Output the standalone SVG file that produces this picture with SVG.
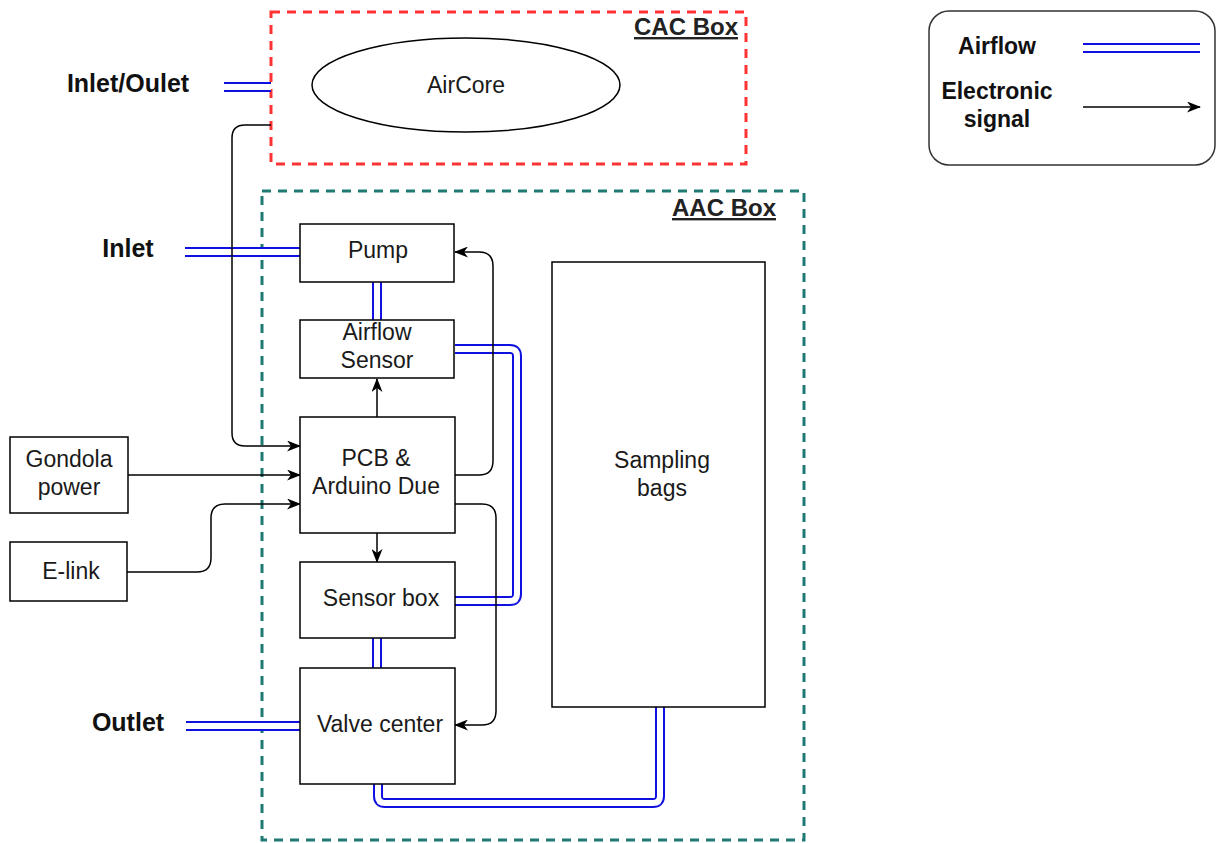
<svg xmlns="http://www.w3.org/2000/svg" width="1216" height="843" viewBox="0 0 1216 843">
<defs>
<marker id="arr" markerWidth="15" markerHeight="11" refX="13" refY="5.5" orient="auto" markerUnits="userSpaceOnUse">
<path d="M0,0 L14,5.5 L0,11 L4,5.5 z" fill="#000"/>
</marker>
<style>
.box{fill:#fff;stroke:#000;stroke-width:1.5}
.lbl{font-family:"Liberation Sans",Arial,sans-serif;font-size:23px;fill:#1a1a1a;text-anchor:middle}
.side{font-family:"Liberation Sans",Arial,sans-serif;font-size:25px;font-weight:bold;fill:#111;text-anchor:middle}
.leg{font-family:"Liberation Sans",Arial,sans-serif;font-size:23px;font-weight:bold;fill:#111;text-anchor:middle}
.title{font-family:"Liberation Sans",Arial,sans-serif;font-size:24px;font-weight:bold;fill:#222;text-decoration:underline;text-anchor:end}
.air-o{fill:none;stroke:#1010e0;stroke-width:10;stroke-linejoin:round}
.air-i{fill:none;stroke:#fff;stroke-width:6;stroke-linejoin:round}
.sig{fill:none;stroke:#000;stroke-width:1.5}
</style>
</defs>
<rect width="1216" height="843" fill="#fff"/>

<g id="cac-box">
<rect x="271" y="12" width="475" height="152" fill="none" stroke="#ff3333" stroke-width="3" stroke-dasharray="9 7"/>
<text class="title" x="738" y="35">CAC Box</text>
</g>
<g id="aac-box">
<rect x="262" y="191" width="542" height="649" fill="none" stroke="#1e7a72" stroke-width="3" stroke-dasharray="9 7"/>
<text class="title" x="776" y="216">AAC Box</text>
</g>

<g id="connectors">
<path class="air-o" d="M224,87 H271"/><path class="air-i" d="M224,87 H271"/>
<path class="air-o" d="M185,252 H300"/><path class="air-i" d="M185,252 H300"/>
<path class="air-o" d="M186,726 H300"/><path class="air-i" d="M186,726 H300"/>
<path class="air-o" d="M377,282 V320"/><path class="air-i" d="M377,282 V320"/>
<path class="air-o" d="M377,638 V668"/><path class="air-i" d="M377,638 V668"/>
<path class="air-o" d="M455,349 H510 Q517,349 517,356 V594 Q517,601 510,601 H455"/>
<path class="air-i" d="M455,349 H510 Q517,349 517,356 V594 Q517,601 510,601 H455"/>
<path class="air-o" d="M378,784 V796 Q378,803 385,803 H653 Q660,803 660,796 V707"/>
<path class="air-i" d="M378,784 V796 Q378,803 385,803 H653 Q660,803 660,796 V707"/>
<path class="sig" d="M271,125 H245 Q232,125 232,138 V433 Q232,446 245,446 H300" marker-end="url(#arr)"/>
<path class="sig" d="M128,475 H300" marker-end="url(#arr)"/>
<path class="sig" d="M127,572 H197 Q211,572 211,558 V518 Q211,504 225,504 H300" marker-end="url(#arr)"/>
<path class="sig" d="M377,417 V379" marker-end="url(#arr)"/>
<path class="sig" d="M377,533 V562" marker-end="url(#arr)"/>
<path class="sig" d="M455,475 H479 Q493,475 493,461 V266 Q493,252 479,252 H455" marker-end="url(#arr)"/>
<path class="sig" d="M455,504 H482 Q496,504 496,518 V711 Q496,725 482,725 H455" marker-end="url(#arr)"/>
</g>

<g id="aircore">
<ellipse cx="466" cy="85" rx="154" ry="47" fill="#fff" stroke="#000" stroke-width="1.5"/>
<text class="lbl" x="466" y="93">AirCore</text>
</g>
<g id="pump">
<rect class="box" x="300" y="224" width="154" height="58"/>
<text class="lbl" x="378" y="258">Pump</text>
</g>
<g id="airflow-sensor">
<rect class="box" x="300" y="320" width="154" height="58"/>
<text class="lbl" x="377" y="340">Airflow</text>
<text class="lbl" x="377" y="368">Sensor</text>
</g>
<g id="pcb">
<rect class="box" x="300" y="417" width="155" height="116"/>
<text class="lbl" x="376" y="466">PCB &amp;</text>
<text class="lbl" x="376" y="494">Arduino Due</text>
</g>
<g id="sensor-box">
<rect class="box" x="300" y="562" width="155" height="76"/>
<text class="lbl" x="381" y="606">Sensor box</text>
</g>
<g id="valve-center">
<rect class="box" x="300" y="668" width="155" height="116"/>
<text class="lbl" x="380" y="732">Valve center</text>
</g>
<g id="sampling-bags">
<rect class="box" x="552" y="262" width="213" height="445"/>
<text class="lbl" x="662" y="468">Sampling</text>
<text class="lbl" x="662" y="496">bags</text>
</g>
<g id="gondola-power">
<rect class="box" x="10" y="437" width="118" height="76"/>
<text class="lbl" x="69" y="467">Gondola</text>
<text class="lbl" x="69" y="495">power</text>
</g>
<g id="e-link">
<rect class="box" x="10" y="542" width="117" height="59"/>
<text class="lbl" x="71" y="579">E-link</text>
</g>
<g id="labels">
<text class="side" x="128" y="92">Inlet/Oulet</text>
<text class="side" x="128" y="257">Inlet</text>
<text class="side" x="128" y="731">Outlet</text>
</g>
<g id="legend">
<rect x="929" y="11" width="286" height="154" rx="20" fill="#fff" stroke="#333" stroke-width="1.5"/>
<text class="leg" x="997" y="54">Airflow</text>
<text class="leg" x="997" y="99">Electronic</text>
<text class="leg" x="997" y="127">signal</text>
<path class="air-o" d="M1083,48 H1200"/><path class="air-i" d="M1083,48 H1200"/>
<path class="sig" d="M1083,107 H1200" marker-end="url(#arr)"/>
</g>
</svg>
